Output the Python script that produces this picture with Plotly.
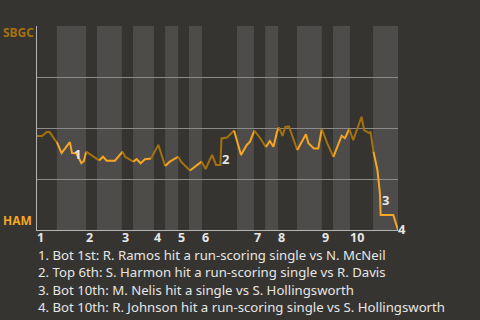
import plotly.graph_objects as go

# game progress (0-100) and SBGC win probability
prog = [0, 1.4, 2.7, 3.5, 5.0, 5.5, 6.8, 7.8, 9.1, 9.7, 10.9, 12.3, 13.0, 13.6, 15.0, 17.2,
        18.3, 19.3, 21.6, 23.7, 24.4, 26.7, 27.6, 28.7, 29.9, 31.6, 33.6, 35.5, 36.8, 39.1,
        40.0, 42.4, 43.8, 45.6, 46.7, 48.5, 49.6, 50.8, 51.1, 52.6, 54.6, 56.5, 58.1, 59.0,
        60.2, 61.8, 63.4, 64.5, 65.5, 66.5, 67.0, 68.0, 68.8, 69.8, 72.1, 74.5, 75.2, 76.7,
        77.9, 78.9, 80.4, 82.1, 84.4, 85.3, 86.5, 87.6, 89.9, 90.6, 92.0, 92.4, 93.2, 94.3,
        95.0, 95.2, 98.7, 100]
wp = [0.461, 0.461, 0.480, 0.480, 0.441, 0.431, 0.377, 0.400, 0.431, 0.377, 0.376, 0.328,
      0.338, 0.384, 0.368, 0.341, 0.359, 0.340, 0.340, 0.384, 0.359, 0.335, 0.348, 0.327,
      0.347, 0.351, 0.417, 0.314, 0.335, 0.359, 0.333, 0.292, 0.310, 0.335, 0.299, 0.368,
      0.319, 0.319, 0.449, 0.453, 0.488, 0.368, 0.417, 0.433, 0.487, 0.451, 0.407, 0.436,
      0.408, 0.482, 0.503, 0.461, 0.506, 0.507, 0.392, 0.469, 0.425, 0.400, 0.400, 0.495,
      0.425, 0.359, 0.462, 0.450, 0.495, 0.441, 0.555, 0.490, 0.475, 0.482, 0.384, 0.294,
      0.180, 0.074, 0.074, 0.0]

# half-inning boundaries (top, bottom alternating)
half_bounds = [0, 5.5, 13.6, 16.6, 23.5, 26.6, 32.4, 35.5, 39.1, 42.1, 45.7, 55.4, 60.1,
               63.2, 66.8, 72.0, 78.9, 82.0, 86.7, 93.1, 100]
innings = ["1", "2", "3", "4", "5", "6", "7", "8", "9", "10"]

events = [
    "1. Bot 1st: R. Ramos hit a run-scoring single vs N. McNeil",
    "2. Top 6th: S. Harmon hit a run-scoring single vs R. Davis",
    "3. Bot 10th: M. Nelis hit a single vs S. Hollingsworth",
    "4. Bot 10th: R. Johnson hit a run-scoring single vs S. Hollingsworth",
]
event_marks = ["1", "2", "3", "4"]
event_x = [11.3, 52.1, 96.4, 101.0]
event_y = [0.371, 0.347, 0.147, 0.004]

BG = "#363430"
BAND = "#4d4c4a"
GRID = "#8c8b89"
SBGC = "#a3720f"
HAM = "#f6a623"
TXT = "#e6e6e6"
FONT = "Noto Sans"

fig = go.Figure()

shapes = []
for k in range(1, len(half_bounds) - 1, 2):
    shapes.append(dict(type="rect", xref="x", yref="y domain", x0=half_bounds[k],
                       x1=half_bounds[k + 1], y0=0, y1=1, fillcolor=BAND,
                       line=dict(width=0), layer="below"))


def half_of(x):
    for k in range(len(half_bounds) - 1):
        if half_bounds[k] <= x < half_bounds[k + 1]:
            return k
    return len(half_bounds) - 2


# group segments by color
segs = []
for i in range(len(prog) - 1):
    mid = (prog[i] + prog[i + 1]) / 2
    col = SBGC if half_of(mid) % 2 == 0 else HAM
    if segs and segs[-1][0] == col:
        segs[-1][1].append(i + 1)
    else:
        segs.append([col, [i, i + 1]])

for col, idx in segs:
    fig.add_trace(go.Scatter(x=[prog[j] for j in idx], y=[wp[j] for j in idx],
                             mode="lines", line=dict(color=col, width=2),
                             cliponaxis=False, hoverinfo="skip", showlegend=False))

ann = []
for lab, xs in zip(innings, half_bounds[0::2]):
    ann.append(dict(x=xs / 100, y=0, xref="paper", yref="paper", text="<b>" + lab + "</b>",
                    showarrow=False, xanchor="left", yanchor="top", yshift=2, xshift=-1,
                    borderpad=0, font=dict(family=FONT, size=12.5, color=TXT)))
for m, ex, ey in zip(event_marks, event_x, event_y):
    ann.append(dict(x=ex / 100, y=ey, xref="paper", yref="paper", text="<b>" + m + "</b>",
                    showarrow=False, xanchor="center", yanchor="middle",
                    font=dict(family=FONT, size=13, color=TXT)))
for i, t in enumerate(events):
    ann.append(dict(x=0, y=-0.1225 - i * 0.0858, xref="paper", yref="paper", text=t,
                    showarrow=False, xanchor="left", yanchor="middle", borderpad=0,
                    font=dict(family=FONT, size=13.2, color=TXT)))
ann.append(dict(x=-36 / 361, y=0.966, xref="paper", yref="paper", text="<b>SBGC</b>",
                showarrow=False, xanchor="left", yanchor="middle",
                font=dict(family=FONT, size=12, color=SBGC)))
ann.append(dict(x=-36 / 361, y=0.049, xref="paper", yref="paper", text="<b>HAM</b>",
                showarrow=False, xanchor="left", yanchor="middle",
                font=dict(family=FONT, size=12, color=HAM)))

fig.update_layout(
    width=480, height=320,
    margin=dict(l=37, r=82, t=26, b=90),
    paper_bgcolor=BG, plot_bgcolor=BG,
    shapes=shapes, annotations=ann,
    xaxis=dict(range=[0, 100], showgrid=False, zeroline=False, showticklabels=False,
               showline=True, linecolor="#b5b5b5", linewidth=1, ticks=""),
    yaxis=dict(range=[0, 1], tickvals=[0, 0.25, 0.5, 0.75, 1], showgrid=True,
               gridcolor=GRID, gridwidth=1, zeroline=False, showticklabels=False,
               showline=True, linecolor="#b5b5b5", linewidth=1, ticks=""),
)

fig.write_html("out.html")
